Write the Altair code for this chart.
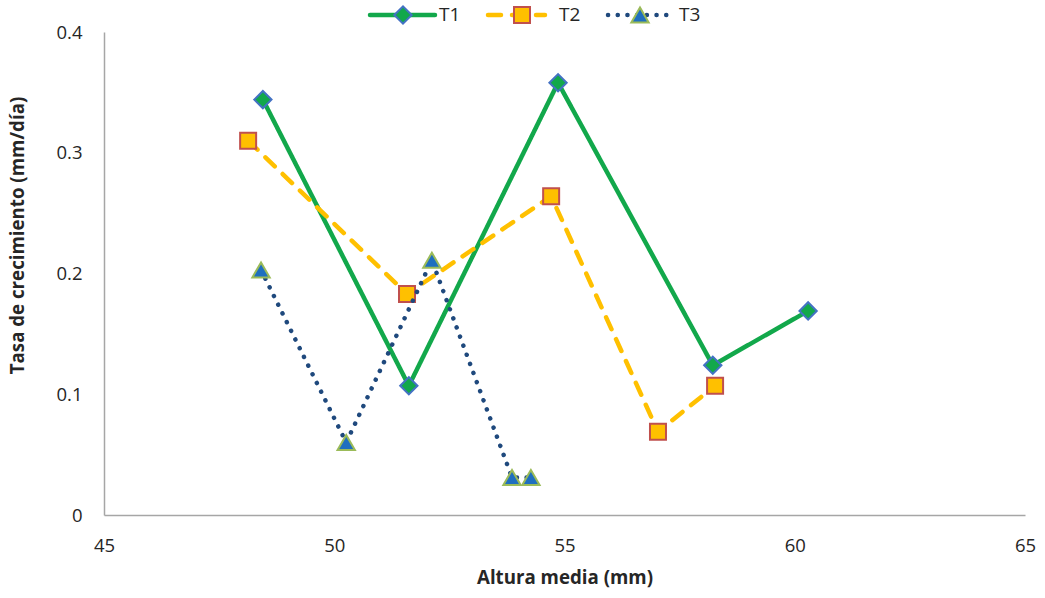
import altair as alt
import pandas as pd

# Growth rate vs. mean height for three treatments
t1_altura = [48.45, 51.62, 54.86, 58.22, 60.29]
t1_tasa = [0.344, 0.107, 0.358, 0.124, 0.169]

t2_altura = [48.13, 51.58, 54.71, 57.03, 58.27]
t2_tasa = [0.310, 0.183, 0.264, 0.069, 0.107]

t3_altura = [48.41, 50.26, 52.12, 53.86, 54.27]
t3_tasa = [0.203, 0.060, 0.211, 0.031, 0.031]

x_ticks = [45, 50, 55, 60, 65]
y_ticks = [0, 0.1, 0.2, 0.3, 0.4]

FONT = "Open Sans"
W, H = 921, 483
PAD = {"left": 104, "top": 32, "right": 20, "bottom": 83}

styles = {
    "T1": dict(line="#12A84B", dash=[1, 0], width=4.5, shape="diamond",
               fill="#12A84B", stroke="#4472C4", size=300),
    "T2": dict(line="#FFC000", dash=[13, 11], width=4.5, shape="square",
               fill="#FFC000", stroke="#C0504D", size=256),
    "T3": dict(line="#1F497D", dash=[0.1, 9.6], width=4.5, shape="triangle-up",
               fill="#1F6FBF", stroke="#9BBB59", size=300),
}

series = {
    "T1": (t1_altura, t1_tasa),
    "T2": (t2_altura, t2_tasa),
    "T3": (t3_altura, t3_tasa),
}

x_scale = alt.Scale(domain=[45, 65], nice=False, zero=False)
y_scale = alt.Scale(domain=[0, 0.4], nice=False)

x_axis = alt.Axis(values=x_ticks, title="Altura media (mm)", grid=False, ticks=False,
                  domainColor="#A6A6A6", domainWidth=1.5, labelPadding=21,
                  labelFlush=False, titlePadding=14)
y_axis = alt.Axis(values=y_ticks, format=".1~f", title="Tasa de crecimiento (mm/día)",
                  grid=False, ticks=False, domainColor="#A6A6A6", domainWidth=1.5,
                  labelPadding=22, labelFlush=False, titlePadding=28, titleY=203)

enc_x = alt.X("altura:Q", scale=x_scale, axis=x_axis)
enc_y = alt.Y("tasa:Q", scale=y_scale, axis=y_axis)

layers = []
for name, (xs, ys) in series.items():
    st = styles[name]
    df = pd.DataFrame({"altura": xs, "tasa": ys, "serie": name})
    line = alt.Chart(df).mark_line(
        color=st["line"], strokeWidth=st["width"], strokeDash=st["dash"],
        strokeCap="round", strokeJoin="round"
    ).encode(x=enc_x, y=enc_y)
    pts = alt.Chart(df).mark_point(
        shape=st["shape"], filled=True, fill=st["fill"], stroke=st["stroke"],
        strokeWidth=2, size=st["size"], opacity=1
    ).encode(x=enc_x, y=enc_y)
    layers += [line, pts]

# Legend row above the plot (pixel offsets relative to the plot area)
leg_names = ["T1", "T2", "T3"]
leg_x0 = [266, 384, 504]
leg_x1 = [331, 441, 563]
leg_mark = [299, 418, 536]
leg_text = [335, 455, 575]
leg_y = -17

legend_src = pd.DataFrame({"k": [0]})
for i, name in enumerate(leg_names):
    st = styles[name]
    base = alt.Chart(legend_src)
    layers.append(
        base.mark_rule(
            color=st["line"], strokeWidth=st["width"], strokeDash=st["dash"],
            strokeCap="round"
        ).encode(x=alt.value(leg_x0[i]), x2=alt.value(leg_x1[i]), y=alt.value(leg_y))
    )
    layers.append(
        base.mark_point(
            shape=st["shape"], filled=True, fill=st["fill"], stroke=st["stroke"],
            strokeWidth=2, size=st["size"], opacity=1
        ).encode(x=alt.value(leg_mark[i]), y=alt.value(leg_y))
    )
    layers.append(
        base.mark_text(
            align="left", baseline="middle", font=FONT, fontSize=19, color="#262626"
        ).encode(x=alt.value(leg_text[i]), y=alt.value(leg_y), text=alt.value(name))
    )

chart = alt.layer(*layers).properties(
    width=W, height=H, padding=PAD, autosize=alt.AutoSizeParams(type="none"),
    background="white"
).configure_view(stroke=None).configure_axis(
    labelFont=FONT, labelFontSize=18.5, labelColor="#262626",
    titleFont=FONT, titleFontSize=18.7, titleFontWeight="bold", titleColor="#262626"
)

chart.save("out.html", embed_options={"renderer": "svg", "actions": False})
